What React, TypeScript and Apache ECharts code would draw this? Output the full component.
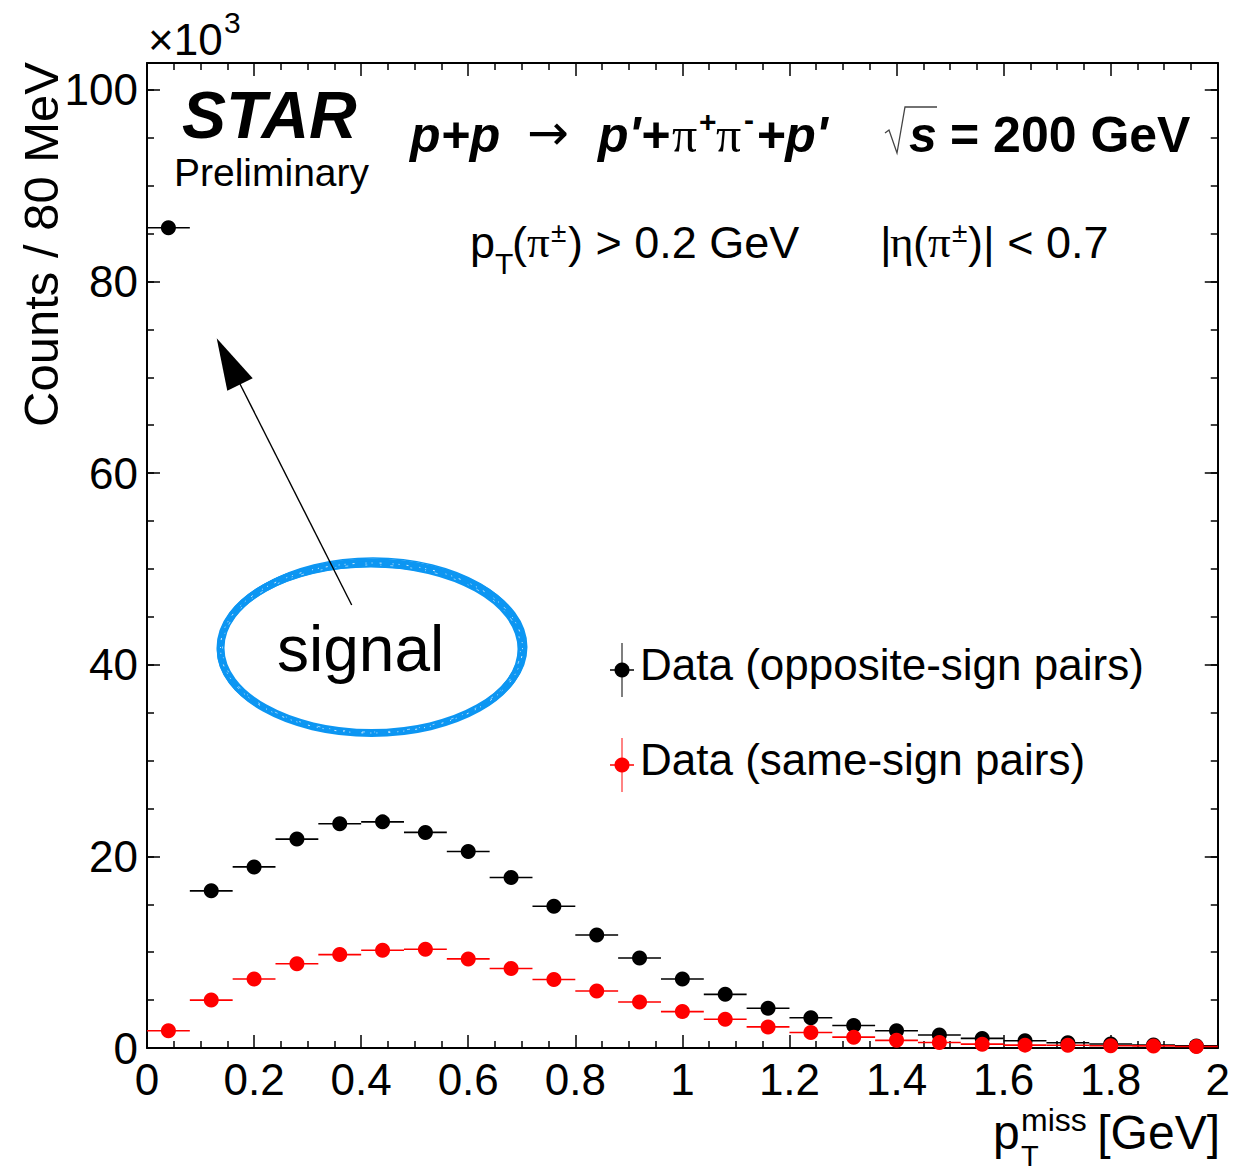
import React, { useEffect, useRef } from "react";
import * as echarts from "echarts";

// ---- data ----
const binCenters = [0.04, 0.12, 0.2, 0.28, 0.36, 0.44, 0.52, 0.6, 0.68, 0.76, 0.84, 0.92, 1.0, 1.08, 1.16, 1.24, 1.32, 1.4, 1.48, 1.56, 1.64, 1.72, 1.8, 1.88, 1.96];
const binHalfWidth = 0.04;
const oppositeSign = [85.6, 16.4, 18.9, 21.8, 23.4, 23.6, 22.5, 20.5, 17.8, 14.8, 11.8, 9.4, 7.2, 5.6, 4.15, 3.15, 2.35, 1.8, 1.35, 1.0, 0.75, 0.55, 0.42, 0.32, 0.22];
const sameSign = [1.8, 5.0, 7.2, 8.8, 9.75, 10.2, 10.3, 9.3, 8.3, 7.15, 5.95, 4.8, 3.8, 3.0, 2.2, 1.62, 1.13, 0.8, 0.57, 0.4, 0.3, 0.28, 0.24, 0.22, 0.16];
const xTickInterval = 0.2;
const yTickInterval = 20;
const yMinorInterval = 5;
const xMax = 2;
const yMax = 102.8;
const legendLabels = ["Data (opposite-sign pairs)", "Data (same-sign pairs)"];

const FONT = "'Liberation Sans', Arial, Helvetica, sans-serif";
const SERIF = "'Liberation Serif', 'DejaVu Serif', serif";

function txt(x: number, baseline: number, text: string, fs: number, extra: any = {}) {
  return {
    type: "text",
    x,
    y: baseline - 0.35 * fs,
    silent: true,
    z: 100,
    style: {
      text,
      fontSize: fs,
      fontFamily: FONT,
      fill: "#000",
      align: "left",
      verticalAlign: "middle",
      ...extra,
    },
  };
}

const BI = { fontWeight: "bold", fontStyle: "italic" };
const B = { fontWeight: "bold" };

function errBarSeries(name: string, values: number[], color: string) {
  return {
    type: "custom",
    name: name + "-err",
    data: binCenters.map((x, i) => [x, values[i]]),
    encode: { x: 0, y: 1 },
    renderItem: (params: any, api: any) => {
      const x = api.value(0);
      const y = api.value(1);
      const p1 = api.coord([x - binHalfWidth, y]);
      const p2 = api.coord([x + binHalfWidth, y]);
      return {
        type: "line",
        shape: { x1: p1[0], y1: p1[1], x2: p2[0], y2: p2[1] },
        style: { stroke: color, lineWidth: 1.6 },
      };
    },
  };
}

function pointSeries(name: string, values: number[], color: string) {
  return {
    type: "scatter",
    name,
    symbol: "circle",
    symbolSize: 15,
    itemStyle: { color, opacity: 1 },
    data: binCenters.map((x, i) => [x, values[i]]),
  };
}

const xFmt = (v: number) => String(parseFloat(v.toFixed(2)));
const yFmt = (v: number) =>
  Math.abs(v / yTickInterval - Math.round(v / yTickInterval)) < 1e-6 ? String(Math.round(v)) : "";

function xAxisDef(position: string, labels: boolean) {
  return {
    type: "value",
    min: 0,
    max: xMax,
    interval: xTickInterval,
    position,
    axisLine: { show: true, onZero: false, lineStyle: { color: "#000", width: 2 } },
    axisTick: { show: true, inside: true, length: 13, lineStyle: { color: "#000", width: 1.5 } },
    minorTick: { show: true, splitNumber: 4, length: 7, lineStyle: { color: "#000", width: 1.5 } },
    splitLine: { show: false },
    minorSplitLine: { show: false },
    axisLabel: {
      show: labels,
      fontSize: 44,
      fontFamily: FONT,
      color: "#000",
      margin: 9,
      formatter: xFmt,
      showMinLabel: true,
      showMaxLabel: true,
    },
  };
}

function yAxisDef(position: string, interval: number, major: boolean, labels: boolean) {
  return {
    type: "value",
    min: 0,
    max: yMax,
    interval,
    position,
    axisLine: { show: major, onZero: false, lineStyle: { color: "#000", width: 2 } },
    axisTick: { show: true, inside: true, length: major ? 13 : 7, lineStyle: { color: "#000", width: 1.5 } },
    splitLine: { show: false },
    axisLabel: {
      show: labels,
      fontSize: 44,
      fontFamily: FONT,
      color: "#000",
      margin: 9,
      formatter: yFmt,
      showMinLabel: true,
      showMaxLabel: false,
    },
  };
}

function buildGraphics() {
  const g: any[] = [];
  // x10^3
  g.push(txt(148, 55, "×10", 44));
  g.push(txt(224, 33, "3", 30));
  // STAR Preliminary
  g.push(txt(182, 138, "STAR", 66, BI));
  g.push(txt(174, 186, "Preliminary", 39));
  // header line
  const hb = 152;
  g.push(txt(410, hb, "p+p", 50, BI));
  g.push(txt(527, hb - 2, "→", 50, { fontFamily: "'DejaVu Sans', sans-serif" }));
  g.push(txt(598, hb, "p'+", 50, BI));
  g.push(txt(672, hb, "π", 50, { fontFamily: SERIF }));
  g.push(txt(699, hb - 20, "+", 30, B));
  g.push(txt(716, hb, "π", 50, { fontFamily: SERIF }));
  g.push(txt(744, hb - 22, "-", 30, B));
  g.push(txt(756, hb, "+p'", 50, BI));
  g.push({
    type: "polyline",
    silent: true,
    z: 100,
    shape: { points: [[885, 133], [889, 130], [897, 153], [905, 107], [937, 107]] },
    style: { stroke: "#444", lineWidth: 1.3, fill: null },
  });
  g.push(txt(909, hb, "s", 50, BI));
  g.push(txt(950, hb, "= 200 GeV", 50, B));
  // cuts line
  const cb = 258;
  g.push(txt(470, cb, "p", 45));
  g.push(txt(495, cb + 16, "T", 30));
  g.push(txt(512, cb, "(", 45));
  g.push(txt(527, cb, "π", 45, { fontFamily: SERIF }));
  g.push(txt(551, cb - 16, "±", 28));
  g.push(txt(568, cb, ") > 0.2 GeV", 45));
  g.push(txt(880, cb, "|", 45));
  g.push(txt(890, cb, "η", 45, { fontFamily: SERIF }));
  g.push(txt(913, cb, "(", 45));
  g.push(txt(928, cb, "π", 45, { fontFamily: SERIF }));
  g.push(txt(952, cb - 16, "±", 28));
  g.push(txt(968, cb, ")| < 0.7", 45));
  // signal ellipse (hand-drawn look)
  const ells = [
    { cx: 371.5, cy: 648, rx: 151, ry: 85, w: 8 },
    { cx: 372.5, cy: 647, rx: 153.5, ry: 87, w: 3 },
    { cx: 370.5, cy: 649, rx: 148.5, ry: 83, w: 3 },
    { cx: 371, cy: 648.5, rx: 151.5, ry: 86, w: 2 },
    { cx: 373, cy: 646.5, rx: 152, ry: 88.5, w: 1.5 },
    { cx: 370, cy: 650, rx: 152.5, ry: 84, w: 1.5 },
  ];
  ells.forEach((e) =>
    g.push({
      type: "ellipse",
      silent: true,
      z: 90,
      shape: { cx: e.cx, cy: e.cy, rx: e.rx, ry: e.ry },
      style: { stroke: "#0d96f2", lineWidth: e.w, fill: null },
    })
  );
  g.push({
    type: "ellipse",
    silent: true,
    z: 91,
    shape: { cx: 371.5, cy: 648, rx: 151, ry: 85 },
    style: { stroke: "#ffffff", lineWidth: 1, fill: null, lineDash: [1, 7, 2, 11, 1, 5], opacity: 0.8 },
  });
  g.push({
    type: "ellipse",
    silent: true,
    z: 91,
    shape: { cx: 371.5, cy: 648.5, rx: 149, ry: 83.5 },
    style: { stroke: "#ffffff", lineWidth: 0.8, fill: null, lineDash: [2, 13, 1, 9, 3, 17], opacity: 0.7 },
  });
  g.push(txt(277, 671, "signal", 64));
  // arrow
  g.push({
    type: "line",
    silent: true,
    z: 100,
    shape: { x1: 351.7, y1: 605, x2: 240, y2: 384 },
    style: { stroke: "#000", lineWidth: 1.4 },
  });
  g.push({
    type: "polygon",
    silent: true,
    z: 100,
    shape: { points: [[216.7, 338.3], [227.3, 390.7], [252.7, 378.3]] },
    style: { fill: "#000" },
  });
  // legend
  const legendRows = [
    { y: 670, color: "#000", bar: "#555", label: legendLabels[0] },
    { y: 765, color: "#ff0000", bar: "#ff5a5a", label: legendLabels[1] },
  ];
  legendRows.forEach((r) => {
    g.push({ type: "line", silent: true, z: 100, shape: { x1: 622, y1: r.y - 27, x2: 622, y2: r.y + 27 }, style: { stroke: r.bar, lineWidth: 1.5 } });
    g.push({ type: "line", silent: true, z: 100, shape: { x1: 610, y1: r.y, x2: 634, y2: r.y }, style: { stroke: r.color, lineWidth: 1.5 } });
    g.push({ type: "circle", silent: true, z: 101, shape: { cx: 622, cy: r.y, r: 7.5 }, style: { fill: r.color } });
    g.push(txt(640, r.y + 10, r.label, 44));
  });
  // axis titles
  g.push({
    type: "text",
    x: 41,
    y: 62,
    rotation: Math.PI / 2,
    silent: true,
    z: 100,
    style: { text: "Counts / 80 MeV", fontSize: 49, fontFamily: FONT, fill: "#000", align: "right", verticalAlign: "middle" },
  });
  g.push(txt(993, 1149, "p", 48));
  g.push(txt(1021, 1131, "miss", 32));
  g.push(txt(1021, 1166, "T", 29));
  g.push(txt(1220, 1149, "[GeV]", 48, { align: "right" }));
  return g;
}

export default function App() {
  const ref = useRef<HTMLDivElement>(null);
  useEffect(() => {
    document.body.style.margin = "0";
    if (!ref.current) return;
    const chart = echarts.init(ref.current, undefined, { renderer: "svg" });
    chart.setOption({
      animation: false,
      backgroundColor: "#ffffff",
      grid: { left: 147, right: 11, top: 63, bottom: 127 },
      xAxis: [xAxisDef("bottom", true), xAxisDef("top", false)],
      yAxis: [
        yAxisDef("left", yTickInterval, true, true),
        yAxisDef("left", yMinorInterval, false, false),
        yAxisDef("right", yTickInterval, true, false),
        yAxisDef("right", yMinorInterval, false, false),
      ],
      series: [
        errBarSeries("opposite", oppositeSign, "#000000"),
        pointSeries("opposite", oppositeSign, "#000000"),
        errBarSeries("same", sameSign, "#ff0000"),
        pointSeries("same", sameSign, "#ff0000"),
      ],
      graphic: buildGraphics(),
    });
    return () => chart.dispose();
  }, []);
  return <div ref={ref} style={{ position: "absolute", left: 0, top: 0, width: 1233, height: 1175 }} />;
}
